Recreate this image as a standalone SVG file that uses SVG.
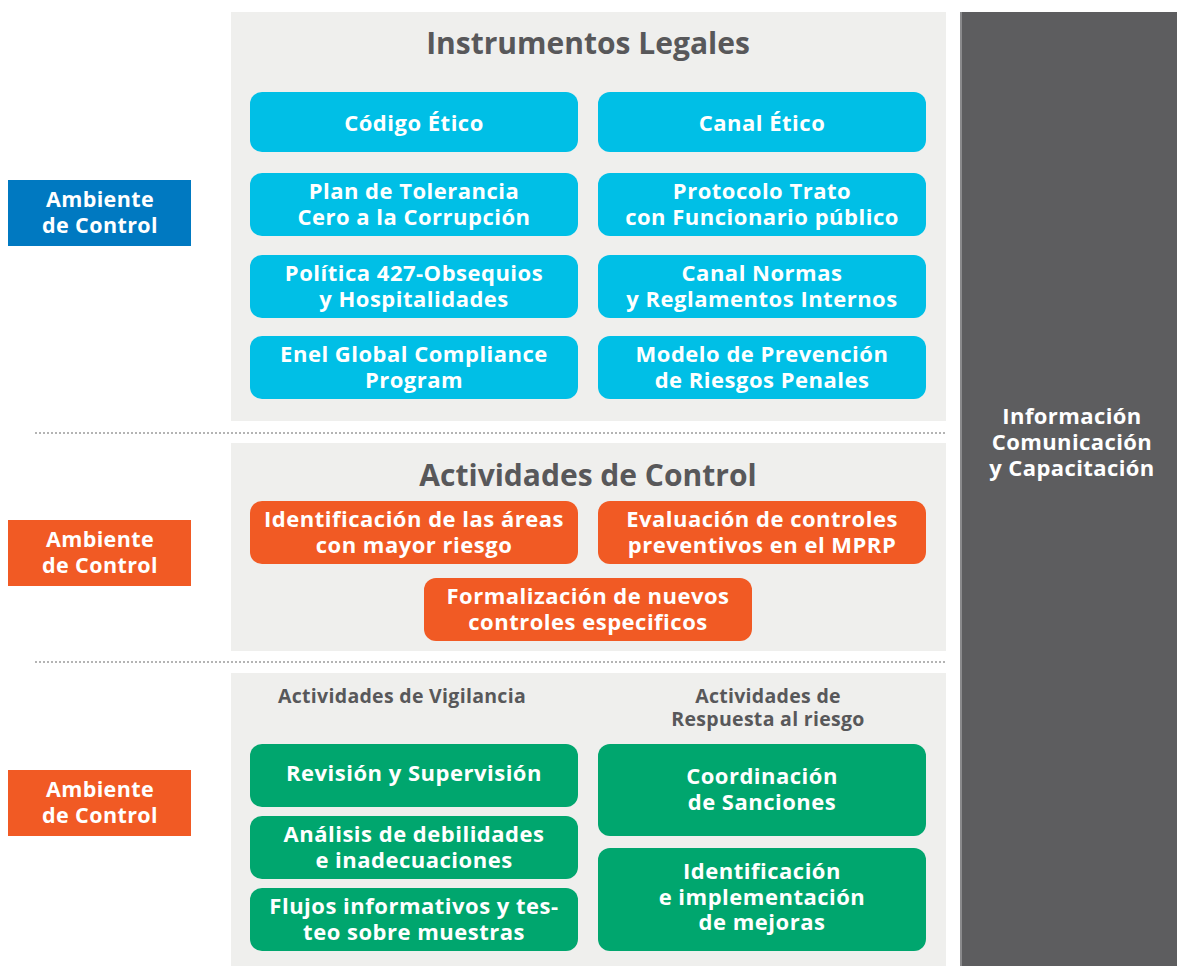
<svg xmlns="http://www.w3.org/2000/svg" width="1177" height="966" viewBox="0 0 1177 966">
<style>
.panel{fill:#efefed}
.sep{stroke:#b4b4b4;stroke-width:2;stroke-dasharray:2 2}
.cy{fill:#00bfe6}
.or{fill:#f15a24}
.gr{fill:#00a66e}
.t{font-family:"Open Sans","Liberation Sans",sans-serif;font-weight:bold;fill:#fff;font-size:22px;letter-spacing:0.5px;text-anchor:middle}
.s{font-size:21.5px;letter-spacing:0.4px}
.h{font-family:"Open Sans","Liberation Sans",sans-serif;font-weight:bold;fill:#58585a;text-anchor:middle}
.sub{font-size:19.5px;letter-spacing:0.3px}
</style>
<rect width="1177" height="966" fill="#fff"/>
<g id="panels">
<rect class="panel" x="231" y="12" width="715" height="409"/>
<rect class="panel" x="231" y="443" width="715" height="208"/>
<rect class="panel" x="231" y="673" width="715" height="293"/>
</g>
<g id="separators">
<line class="sep" x1="35" y1="433" x2="946" y2="433"/>
<line class="sep" x1="35" y1="662" x2="946" y2="662"/>
</g>
<g id="info">
<rect x="960" y="12" width="217" height="954" fill="#5d5d5f"/>
<rect x="960" y="12" width="2" height="954" fill="#8a8a8c"/>
<text class="t" style="font-size:22px;letter-spacing:0.4px"><tspan x="1072" y="424">Información</tspan><tspan x="1072" y="450">Comunicación</tspan><tspan x="1072" y="476">y Capacitación</tspan></text>
</g>
<g id="ambiente1">
<rect x="8" y="180" width="183" height="66" fill="#0079c1"/>
<text class="t s"><tspan x="100" y="207">Ambiente</tspan><tspan x="100" y="233">de Control</tspan></text>
</g>
<g id="ambiente2">
<rect x="8" y="520" width="183" height="66" fill="#f15a24"/>
<text class="t s"><tspan x="100" y="547">Ambiente</tspan><tspan x="100" y="573">de Control</tspan></text>
</g>
<g id="ambiente3">
<rect x="8" y="770" width="183" height="66" fill="#f15a24"/>
<text class="t s"><tspan x="100" y="797">Ambiente</tspan><tspan x="100" y="823">de Control</tspan></text>
</g>
<g id="title1"><text class="h" x="588" y="54" style="font-size:30px">Instrumentos Legales</text></g>
<g id="codigo"><rect class="cy" x="250" y="92" width="328" height="60" rx="12"/><text class="t" x="414" y="131">Código Ético</text></g>
<g id="canal"><rect class="cy" x="598" y="92" width="328" height="60" rx="12"/><text class="t" x="762" y="131">Canal Ético</text></g>
<g id="plan"><rect class="cy" x="250" y="173" width="328" height="63" rx="12"/><text class="t"><tspan x="414" y="199">Plan de Tolerancia</tspan><tspan x="414" y="225">Cero a la Corrupción</tspan></text></g>
<g id="protocolo"><rect class="cy" x="598" y="173" width="328" height="63" rx="12"/><text class="t"><tspan x="762" y="199">Protocolo Trato</tspan><tspan x="762" y="225">con Funcionario público</tspan></text></g>
<g id="politica"><rect class="cy" x="250" y="255" width="328" height="63" rx="12"/><text class="t"><tspan x="414" y="281">Política 427-Obsequios</tspan><tspan x="414" y="307">y Hospitalidades</tspan></text></g>
<g id="normas"><rect class="cy" x="598" y="255" width="328" height="63" rx="12"/><text class="t"><tspan x="762" y="281">Canal Normas</tspan><tspan x="762" y="307">y Reglamentos Internos</tspan></text></g>
<g id="enel"><rect class="cy" x="250" y="336" width="328" height="63" rx="12"/><text class="t"><tspan x="414" y="362">Enel Global Compliance</tspan><tspan x="414" y="388">Program</tspan></text></g>
<g id="modelo"><rect class="cy" x="598" y="336" width="328" height="63" rx="12"/><text class="t"><tspan x="762" y="362">Modelo de Prevención</tspan><tspan x="762" y="388">de Riesgos Penales</tspan></text></g>
<g id="title2"><text class="h" x="588" y="486" style="font-size:30px">Actividades de Control</text></g>
<g id="identificacion"><rect class="or" x="250" y="501" width="328" height="63" rx="12"/><text class="t"><tspan x="414" y="527">Identificación de las áreas</tspan><tspan x="414" y="553">con mayor riesgo</tspan></text></g>
<g id="evaluacion"><rect class="or" x="598" y="501" width="328" height="63" rx="12"/><text class="t"><tspan x="762" y="527">Evaluación de controles</tspan><tspan x="762" y="553">preventivos en el MPRP</tspan></text></g>
<g id="formalizacion"><rect class="or" x="424" y="578" width="328" height="63" rx="12"/><text class="t"><tspan x="588" y="604">Formalización de nuevos</tspan><tspan x="588" y="630">controles especificos</tspan></text></g>
<g id="vigilancia"><text class="h sub" x="402" y="703">Actividades de Vigilancia</text></g>
<g id="respuesta"><text class="h sub"><tspan x="768" y="703">Actividades de</tspan><tspan x="768" y="726">Respuesta al riesgo</tspan></text></g>
<g id="revision"><rect class="gr" x="250" y="744" width="328" height="63" rx="12"/><text class="t" x="414" y="781">Revisión y Supervisión</text></g>
<g id="analisis"><rect class="gr" x="250" y="816" width="328" height="63" rx="12"/><text class="t"><tspan x="414" y="842">Análisis de debilidades</tspan><tspan x="414" y="868">e inadecuaciones</tspan></text></g>
<g id="flujos"><rect class="gr" x="250" y="888" width="328" height="63" rx="12"/><text class="t"><tspan x="414" y="914">Flujos informativos y tes-</tspan><tspan x="414" y="940">teo sobre muestras</tspan></text></g>
<g id="coordinacion"><rect class="gr" x="598" y="744" width="328" height="92" rx="12"/><text class="t"><tspan x="762" y="784">Coordinación</tspan><tspan x="762" y="810">de Sanciones</tspan></text></g>
<g id="mejoras"><rect class="gr" x="598" y="848" width="328" height="103" rx="12"/><text class="t"><tspan x="762" y="879">Identificación</tspan><tspan x="762" y="905">e implementación</tspan><tspan x="762" y="930">de mejoras</tspan></text></g>
</svg>
